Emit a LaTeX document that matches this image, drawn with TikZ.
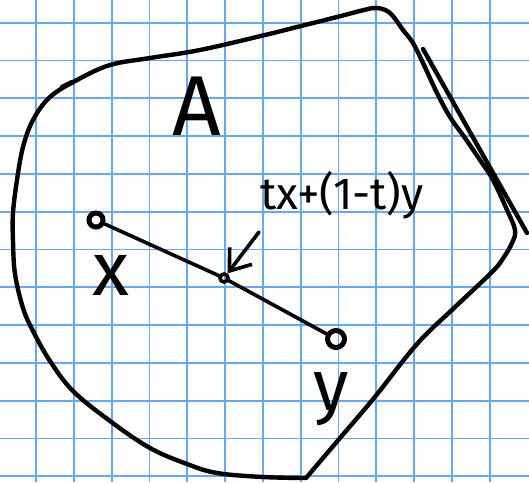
\documentclass[tikz,border=0pt]{standalone}
\usepackage{fontspec}
\setmainfont{Fira Sans}
\usepackage{tikz}
\usetikzlibrary{arrows.meta,positioning}
\definecolor{gridblue}{RGB}{95,170,250}

\begin{document}
\begin{tikzpicture}[
  x=1pt, y=-1pt,
  gridline/.style={draw=gridblue, line width=1.8pt},
  pen/.style={draw=black, line width=4.4pt, line cap=round, line join=round},
  thinpen/.style={draw=black, line width=3.6pt, line cap=round},
  dot/.style={circle, draw=black, line width=5pt, inner sep=0pt},
  hand/.style={inner sep=0pt, anchor=base, font=\fontsize{45}{50}\selectfont},
  arr/.style={-{Straight Barb[length=19pt, width=28pt]}, thinpen}
]
\useasboundingbox (0,0) rectangle (529,482);
\fill[white] (0,0) rectangle (529,482);
\foreach \k in {0,...,12} {
  \draw[gridline] ({36+37.8*\k},0) -- ({36+37.8*\k},482);
  \draw[gridline] (0,{22.7+37.8*\k}) -- (529,{22.7+37.8*\k});
}

% the set A
\draw[pen] plot[smooth, tension=0.6] coordinates {(306,478) (340,438) (374,398)
  (417,344) (454,308) (491,273) (502,260) (512,243) (515,230) (507,210) (493,180)
  (480,160) (465,138) (450,117) (437,93) (423,63) (413,43) (403,30) (390,13)
  (377,8) (364,10) (337,17) (297,27) (265,35) (200,50) (150,58) (110,65) (77,80)
  (50,97) (33,120) (23,147) (17,180) (13,213) (13,241) (15,274) (23,308) (33,331)
  (50,361) (73,391) (110,421) (150,448) (187,464) (217,473) (263,477) (306,478)};
\draw[pen] (423,49) -- (527,233);
\draw[pen] (62,87) -- (72,82);

\node[dot, minimum size=14pt] (ptx) at (96,220) {};
\node[dot, minimum size=17pt] (pty) at (336,339) {};
\node[dot, minimum size=8pt, line width=3.6pt] (ptm) at (224,278) {};
\coordinate (arrstart) at (259,232);

\draw[thinpen] (ptx) -- (ptm) -- (pty);
\draw[arr] (arrstart) -- (ptm);

\node[hand, font=\fontsize{85}{90}\selectfont] (lblA) at (197,135) {A};
\node[hand] (lblcomb) at (342,209) {tx+(1-t)y};
\node[hand, font=\fontsize{76}{80}\selectfont] (lblx) at (111,295) {x};
\node[hand, font=\fontsize{72}{76}\selectfont] (lbly) at (331,410) {y};
\end{tikzpicture}
\end{document}
